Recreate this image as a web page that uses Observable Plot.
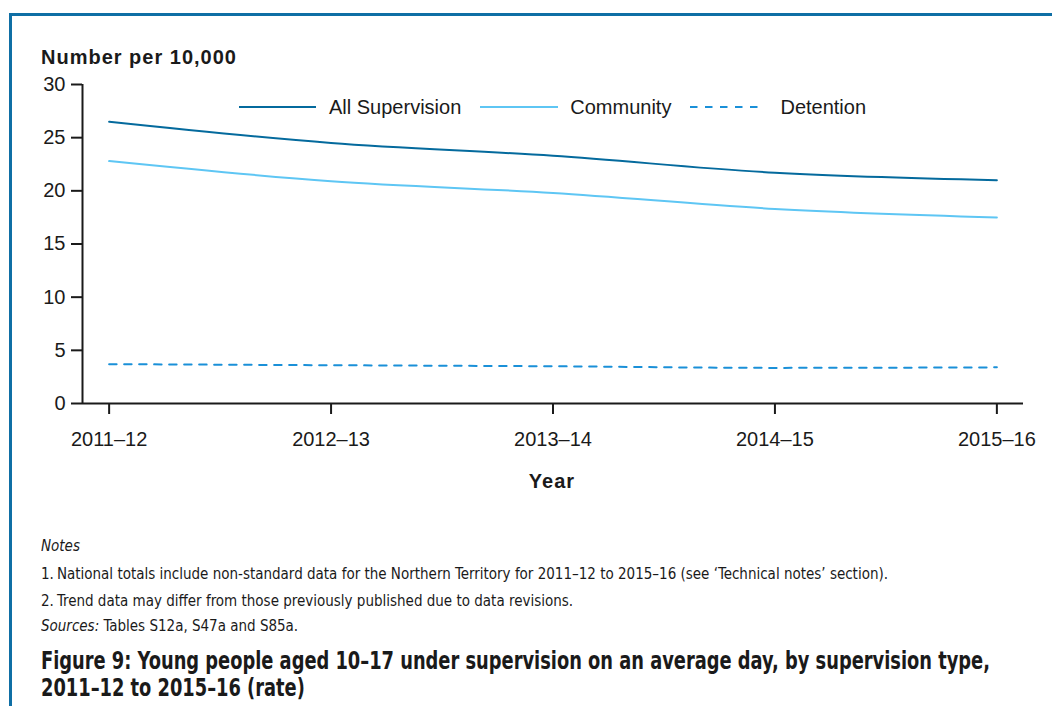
<!DOCTYPE html>
<html>
<head>
<meta charset="utf-8">
<script src="https://cdn.jsdelivr.net/npm/d3@7"></script>
<script src="https://cdn.jsdelivr.net/npm/@observablehq/plot@0.6"></script>
<style>
  html, body { margin: 0; padding: 0; background: #fff; }
  body { width: 1052px; height: 706px; overflow: hidden; position: relative;
         font-family: "Liberation Sans", Arial, sans-serif; color: #1a1a1a; }
  .abs { position: absolute; white-space: nowrap; }
  #frame { left: 9px; top: 13px; width: 1100px; height: 800px;
           border-top: 3px solid #0f6fa5; border-left: 3px solid #0f6fa5; }
  #ytitle { left: 41px; top: 45px; font-weight: bold; font-size: 20px; letter-spacing: 1px; line-height: 24px; }
  #legend { left: 239px; top: 95px; height: 24px; display: flex; align-items: center; font-size: 20px; }
  #legend .item { display: flex; align-items: center; }
  #legend .item + .item { margin-left: 19px; }
  #legend .lab { line-height: 24px; }
  #xtitle { left: 452px; width: 200px; text-align: center; top: 469px; font-weight: bold; font-size: 20px; line-height: 24px; letter-spacing: 1px; }
  .note { left: 41px; font-family: "DejaVu Sans Condensed", "Liberation Sans Narrow", sans-serif; font-size: 16px; line-height: 20px; transform-origin: 0 50%; }
  .note .num { display: inline-block; width: 17px; }
  .ttl { left: 41px; font-family: "DejaVu Sans Condensed", "Liberation Sans Narrow", sans-serif; font-weight: bold; font-size: 24px; line-height: 27px; transform-origin: 0 0; }
</style>
</head>
<body>
<div id="frame" class="abs"></div>
<div id="ytitle" class="abs">Number per 10,000</div>
<div id="chart" class="abs" style="left:0; top:70px;"></div>
<div id="legend" class="abs"></div>
<div id="xtitle" class="abs">Year</div>
<div class="abs note" style="top:536px;"><i>Notes</i></div>
<div id="note1" class="abs note" style="top:564px;"><span class="num">1.</span>National totals include non-standard data for the Northern Territory for 2011–12 to 2015–16 (see ‘Technical notes’ section).</div>
<div class="abs note" style="top:591px;"><span class="num">2.</span>Trend data may differ from those previously published due to data revisions.</div>
<div class="abs note" style="top:616px;"><i>Sources:</i> Tables S12a, S47a and S85a.</div>
<div id="figtitle" class="abs ttl" style="top:648px;">Figure 9: Young people aged 10–17 under supervision on an average day, by supervision type,<br>2011–12 to 2015–16 (rate)</div>
<script>
const years = ["2011–12", "2012–13", "2013–14", "2014–15", "2015–16"];
const allSupervision = [26.5, 24.5, 23.3, 21.7, 21.0];
const community = [22.8, 20.9, 19.8, 18.3, 17.5];
const detention = [3.7, 3.6, 3.5, 3.35, 3.4];
const seriesNames = ["All Supervision", "Community", "Detention"];
const seriesColors = ["#046a9d", "#5ec6f4", "#1a90d8"];
const seriesDash = [null, null, "7.5,7.5"];
const yTicks = [0, 5, 10, 15, 20, 25, 30];
const xPad = 0.12;

const xIndex = years.map((_, i) => i);
const xDomain = [-xPad, years.length - 1 + xPad];
const seriesValues = [allSupervision, community, detention];
const rows = [];
seriesValues.forEach((vals, s) => vals.forEach((v, i) => rows.push({i, v, s: seriesNames[s]})));

const lineMarks = seriesNames.map((name, s) =>
  Plot.line(rows.filter(d => d.s === name), {
    x: "i", y: "v", stroke: seriesColors[s], strokeWidth: 2,
    strokeDasharray: seriesDash[s] || undefined, curve: "monotone-x"
  })
);

const chart = Plot.plot({
  width: 1052, height: 430,
  marginLeft: 82, marginRight: 29, marginTop: 14, marginBottom: 97,
  style: { fontFamily: "'Liberation Sans', Arial, sans-serif", fontSize: "20px", color: "#1a1a1a", background: "transparent", overflow: "visible" },
  x: { type: "linear", domain: xDomain, axis: null },
  y: { domain: [0, 30], axis: null },
  marks: [
    Plot.axisY(yTicks, { tickSize: 11, tickPadding: 6, label: null, strokeWidth: 2, stroke: "#1a1a1a", fill: "#1a1a1a" }),
    Plot.axisX(xIndex, { tickSize: 11, tickPadding: 17, label: null, tickFormat: i => years[i], strokeWidth: 2, stroke: "#1a1a1a", fill: "#1a1a1a" }),
    Plot.ruleY([0], { strokeWidth: 2, stroke: "#1a1a1a" }),
    Plot.ruleX([xDomain[0]], { y1: 0, y2: 30, strokeWidth: 2, stroke: "#1a1a1a" }),
    ...lineMarks
  ]
});
document.getElementById("chart").appendChild(chart);

const legend = document.getElementById("legend");
const swatchWidths = [77, 78, 69];
const labelGaps = [13, 12, 21];
seriesNames.forEach((name, s) => {
  const item = document.createElement("div");
  item.className = "item";
  const w = swatchWidths[s];
  item.innerHTML = `<svg width="${w}" height="24"><line x1="0" x2="${w}" y1="12" y2="12" stroke="${seriesColors[s]}" stroke-width="2" ${seriesDash[s] ? `stroke-dasharray="${seriesDash[s]}"` : ""}/></svg><span class="lab" style="margin-left:${labelGaps[s]}px">${name}</span>`;
  legend.appendChild(item);
});

// fit condensed text blocks to the reference widths
const noteScale = 847 / document.getElementById("note1").getBoundingClientRect().width;
document.querySelectorAll(".note").forEach(el => el.style.transform = `scaleX(${noteScale})`);
const ft = document.getElementById("figtitle");
ft.style.transform = `scaleX(${949 / ft.getBoundingClientRect().width})`;
</script>
</body>
</html>
